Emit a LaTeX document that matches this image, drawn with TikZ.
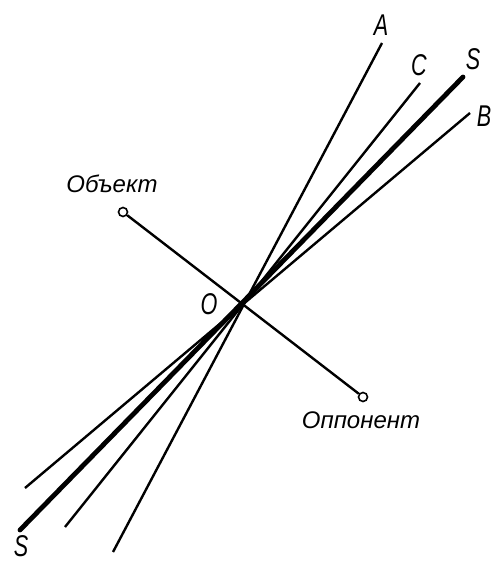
\documentclass[tikz,border=0pt]{standalone}
\usepackage{fontspec}
\setmainfont{Liberation Sans}
\newfontfamily\narrowfont{Liberation Sans}[FakeStretch=0.72]
\usetikzlibrary{positioning}

\begin{document}
\begin{tikzpicture}[x=1pt, y=-1pt]
    \tikzstyle{ray} = [draw, line width=2.4pt]
    \tikzstyle{axis} = [draw, line width=4.8pt, line cap=round]
    \tikzstyle{pole} = [circle, draw, line width=1.6pt, fill=white, inner sep=0pt, minimum size=9pt]
    \tikzstyle{letter} = [font=\narrowfont\itshape\fontsize{30}{30}\selectfont, inner sep=0pt]
    \tikzstyle{word} = [font=\itshape\fontsize{24}{24}\selectfont, inner sep=0pt]

    \useasboundingbox (0,0) rectangle (492,564);

    % rays through the centre
    \coordinate (o) at (243,305);
    \coordinate (aTop) at (382,43);
    \coordinate (aBot) at (113,552);
    \coordinate (cTop) at (420,83);
    \coordinate (cBot) at (65,527);
    \coordinate (sTop) at (463,77);
    \coordinate (sBot) at (20,530);
    \coordinate (bTop) at (470,113);
    \coordinate (bBot) at (25,488);

    \node [pole] (obj) at (123,212) {};
    \node [pole] (opp) at (363,397) {};

    \path [ray] (obj) -- (opp);
    \path [ray] (aTop) -- (aBot);
    \path [ray] (cTop) -- (cBot);
    \path [ray] (bTop) -- (bBot);
    \path [axis] (sTop) -- (sBot);

    % labels
    \node [letter] (lblA) at (381,25) {A};
    \node [letter] (lblC) at (419,65) {C};
    \node [letter] (lblS) at (473,59) {S};
    \node [letter] (lblB) at (484,116) {B};
    \node [letter] (lblS2) at (21,546) {S};
    \node [letter] (lblO) at (209,304) {O};
    \node [word] (lblObj) at (112,184) {Объект};
    \node [word] (lblOpp) at (361,420) {Оппонент};
\end{tikzpicture}
\end{document}
